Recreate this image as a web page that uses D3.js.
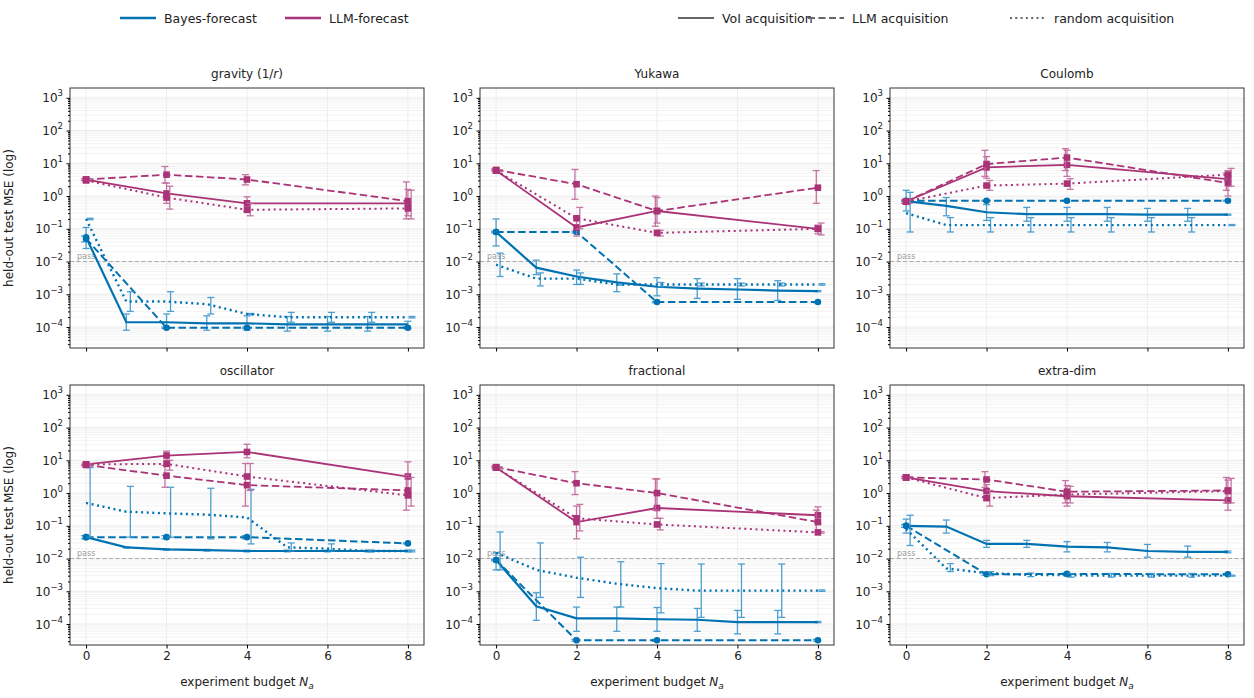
<!DOCTYPE html>
<html><head><meta charset="utf-8">
<script src="https://cdn.jsdelivr.net/npm/d3@7"></script>
<style>body{margin:0;background:#fff;font-family:"DejaVu Sans",sans-serif;}</style>
</head><body><svg id="chart" width="1254" height="698"></svg>
<script>
// x positions
var xFull = [0, 1, 2, 3, 4, 5, 6, 7, 8];
var xSparse = [0, 2, 4, 8];
var panelNames = ["gravity", "Yukawa", "Coulomb", "oscillator", "fractional", "extra-dim"];

// each entry: [value, low, high]
var gravBV = [[0.055,0.025,0.11],[1.4e-4,8e-5,2.5e-4],[1.4e-4,9e-5,2.5e-4],[1.3e-4,8e-5,2.2e-4],[1.3e-4,8e-5,2.2e-4],[1.2e-4,7.5e-5,2.1e-4],[1.2e-4,7.5e-5,2.1e-4],[1.2e-4,7.5e-5,2.1e-4],[1.2e-4,9e-5,1.5e-4]];
var gravBL = [[0.05,0.04,0.06],[9.5e-5,9e-5,1e-4],[9.5e-5,9e-5,1e-4],[9.5e-5,9e-5,1e-4]];
var gravBR = [[0.2,0.19,0.21],[6e-4,3e-4,1.2e-3],[6e-4,3e-4,1.2e-3],[5e-4,2.5e-4,8e-4],[2.5e-4,2.4e-4,2.6e-4],[2e-4,1.4e-4,2.8e-4],[2e-4,1.4e-4,2.8e-4],[2e-4,1.4e-4,2.8e-4],[2e-4,1.9e-4,2.1e-4]];
var gravLV = [[3.2,3,3.4],[1.2,0.6,2.5],[0.6,0.35,0.95],[0.6,0.25,1.6]];
var gravLL = [[3.2,3,3.4],[4.5,2.5,8],[3.2,2.2,4.5],[0.7,0.2,2.7]];
var gravLR = [[3.0,2.8,3.2],[0.9,0.4,2],[0.38,0.25,0.6],[0.42,0.2,1.5]];

var yukBV = [[0.08,0.03,0.2],[6.5e-3,4e-3,1.1e-2],[3.5e-3,2e-3,5.5e-3],[2.3e-3,1.2e-3,4.2e-3],[1.7e-3,9e-4,3.2e-3],[1.5e-3,7.5e-4,3e-3],[1.4e-3,7e-4,3e-3],[1.3e-3,6.5e-4,2.6e-3],[1.25e-3,1.2e-3,1.3e-3]];
var yukBL = [[0.08,0.075,0.085],[0.08,0.075,0.085],[5.8e-4,5.5e-4,6e-4],[5.8e-4,5.5e-4,6e-4]];
var yukBR = [[8e-3,3.5e-3,1.8e-2],[3e-3,1.8e-3,4.5e-3],[3e-3,2e-3,4.5e-3],[2e-3,1.9e-3,2.1e-3],[2e-3,1.7e-3,2.3e-3],[2e-3,1.8e-3,2.2e-3],[2e-3,1.8e-3,2.2e-3],[2e-3,1.8e-3,2.2e-3],[2e-3,1.9e-3,2.1e-3]];
var yukLV = [[6,5.6,6.4],[0.11,0.06,0.2],[0.35,0.15,0.9],[0.1,0.07,0.13]];
var yukLL = [[6.3,5.9,6.7],[2.3,0.8,6.5],[0.35,0.12,1.0],[1.8,0.6,6]];
var yukLR = [[6,5.6,6.4],[0.21,0.1,0.45],[0.075,0.06,0.09],[0.1,0.065,0.15]];

var couBV = [[0.7,0.35,1.5],[0.5,0.25,0.9],[0.32,0.18,0.55],[0.28,0.17,0.45],[0.28,0.17,0.45],[0.28,0.17,0.45],[0.27,0.17,0.42],[0.27,0.17,0.42],[0.27,0.26,0.28]];
var couBL = [[0.72,0.7,0.74],[0.72,0.7,0.74],[0.72,0.7,0.74],[0.72,0.7,0.74]];
var couBR = [[0.3,0.08,1.3],[0.13,0.08,0.22],[0.13,0.08,0.22],[0.13,0.08,0.22],[0.13,0.08,0.22],[0.13,0.08,0.22],[0.13,0.08,0.22],[0.13,0.08,0.22],[0.13,0.125,0.135]];
var couLV = [[0.68,0.6,0.76],[7.5,3.5,16],[9,4,25],[3.3,1,6]];
var couLL = [[0.68,0.6,0.76],[9.5,4,25],[15,6,28],[2.5,1.5,5]];
var couLR = [[0.68,0.6,0.76],[2.1,1.5,3],[2.4,1.6,3.4],[4.5,2,7]];

var oscBV = [[0.045,0.042,0.048],[0.022,0.021,0.023],[0.019,0.018,0.02],[0.018,0.017,0.019],[0.017,0.016,0.018],[0.017,0.016,0.018],[0.017,0.016,0.018],[0.017,0.016,0.018],[0.017,0.016,0.018]];
var oscBL = [[0.045,0.04,0.05],[0.045,0.04,0.05],[0.045,0.04,0.05],[0.029,0.028,0.03]];
var oscBR = [[0.5,0.045,6],[0.27,0.045,1.6],[0.24,0.045,1.5],[0.22,0.04,1.4],[0.18,0.028,1.3],[0.022,0.017,0.03],[0.02,0.017,0.028],[0.017,0.016,0.018],[0.017,0.016,0.018]];
var oscLV = [[7.5,7,8],[14,10,19],[18,12,31],[3.2,1,9]];
var oscLL = [[7.2,6.8,7.6],[3.4,1.5,7],[1.75,0.4,8],[1.2,0.3,3.5]];
var oscLR = [[7.5,7,8],[7.8,5,10],[3.2,1.2,8],[0.85,0.4,3]];

var fraBV = [[9e-3,4.5e-3,1.5e-2],[3.5e-4,1.3e-4,9e-4],[1.5e-4,6e-5,3.3e-4],[1.5e-4,6e-5,3.3e-4],[1.4e-4,6e-5,3.2e-4],[1.35e-4,6e-5,3e-4],[1.15e-4,5e-5,2.6e-4],[1.15e-4,5e-5,2.6e-4],[1.15e-4,1.1e-4,1.2e-4]];
var fraBL = [[9e-3,8.5e-3,9.5e-3],[3.2e-5,3e-5,3.4e-5],[3.2e-5,3e-5,3.4e-5],[3.2e-5,3e-5,3.4e-5]];
var fraBR = [[0.015,4.5e-3,6.5e-2],[4.5e-3,6.5e-4,3e-2],[2.6e-3,6.5e-4,1.1e-2],[1.7e-3,3.3e-4,8e-3],[1.25e-3,2.2e-4,7e-3],[1.05e-3,1.6e-4,6.8e-3],[1.05e-3,1.6e-4,6.8e-3],[1.05e-3,1.6e-4,6.8e-3],[1.05e-3,1e-3,1.1e-3]];
var fraLV = [[6,5.6,6.4],[0.13,0.04,0.4],[0.35,0.17,2.7],[0.21,0.12,0.38]];
var fraLL = [[6.2,5.8,6.6],[2,0.9,4.5],[1,0.3,2.7],[0.13,0.065,0.3]];
var fraLR = [[6,5.6,6.4],[0.17,0.07,0.45],[0.11,0.075,0.17],[0.063,0.06,0.066]];

var extBV = [[0.1,0.06,0.16],[0.095,0.06,0.15],[0.028,0.022,0.036],[0.028,0.022,0.036],[0.023,0.016,0.033],[0.022,0.016,0.031],[0.017,0.011,0.027],[0.016,0.011,0.024],[0.016,0.015,0.017]];
var extBL = [[0.1,0.09,0.11],[3.3e-3,3.1e-3,3.5e-3],[3.4e-3,3.2e-3,3.6e-3],[3.3e-3,3.1e-3,3.5e-3]];
var extBR = [[0.08,0.025,0.21],[5e-3,4e-3,7e-3],[3.6e-3,3e-3,4e-3],[3.2e-3,2.8e-3,3.6e-3],[3.1e-3,2.7e-3,3.5e-3],[3e-3,2.7e-3,3.5e-3],[3e-3,2.7e-3,3.5e-3],[3e-3,2.7e-3,3.5e-3],[3e-3,2.9e-3,3.1e-3]];
var extLV = [[3,2.8,3.2],[1.15,0.6,1.8],[0.8,0.4,1.7],[0.6,0.3,2.5]];
var extLL = [[3,2.8,3.2],[2.6,1.5,4.5],[1.1,0.5,2.4],[1.2,0.5,3]];
var extLR = [[3,2.8,3.2],[0.7,0.4,1.2],[0.9,0.5,1.6],[1.15,0.5,2.8]];

var panelSeries = [
  [gravBV, gravBL, gravBR, gravLV, gravLL, gravLR],
  [yukBV, yukBL, yukBR, yukLV, yukLL, yukLR],
  [couBV, couBL, couBR, couLV, couLL, couLR],
  [oscBV, oscBL, oscBR, oscLV, oscLL, oscLR],
  [fraBV, fraBL, fraBR, fraLV, fraLL, fraLR],
  [extBV, extBL, extBR, extLV, extLL, extLR]
];

var blue = "#0072b2", blueErr = "#3a95cc";
var purple = "#aa3377", purpleErr = "#c0679a";
var dashes = {voi: null, llm: "7.5,3.5", rnd: "2,3.6"};
var seriesStyle = [
  {c: blue, e: blueErr, w: 2.2, d: dashes.voi, xs: xFull, off: 0, mk: "first"},
  {c: blue, e: blueErr, w: 2.0, d: dashes.llm, xs: xSparse, off: -0.04, mk: "circle"},
  {c: blue, e: blueErr, w: 2.4, d: dashes.rnd, xs: xFull, off: 0.1, mk: "none"},
  {c: purple, e: purpleErr, w: 1.8, d: dashes.voi, xs: xSparse, off: 0, mk: "square"},
  {c: purple, e: purpleErr, w: 1.8, d: dashes.llm, xs: xSparse, off: -0.04, mk: "square"},
  {c: purple, e: purpleErr, w: 2.0, d: dashes.rnd, xs: xSparse, off: 0.08, mk: "square"}
];

var svg = d3.select("#chart");
var colL = [70, 480, 890], pw = 354;
var rowT = [88, 385], ph = 260;

var x = d3.scaleLinear().domain([-0.4, 8.4]).range([0, pw]);
var y = d3.scaleLog().domain([Math.pow(10, -4.64), Math.pow(10, 3.3)]).range([ph, 0]);
var majors = [1e-4, 1e-3, 1e-2, 1e-1, 1, 10, 100, 1000];
var minors = [];
for (var e = -5; e <= 3; e++) for (var m = 2; m <= 9; m++) {
  var v = m * Math.pow(10, e);
  if (v >= y.domain()[0] && v <= y.domain()[1]) minors.push(v);
}

panelNames.forEach(function(name, i) {
  var r = Math.floor(i / 3), c = i % 3;
  var g = svg.append("g").attr("transform", "translate(" + colL[c] + "," + rowT[r] + ")");

  // grid
  g.selectAll(".gm").data(minors).enter().append("line")
    .attr("x1", 0).attr("x2", pw).attr("y1", d => y(d)).attr("y2", d => y(d))
    .attr("stroke", "#ebebeb").attr("stroke-width", 0.6);
  g.selectAll(".gM").data(majors).enter().append("line")
    .attr("x1", 0).attr("x2", pw).attr("y1", d => y(d)).attr("y2", d => y(d))
    .attr("stroke", "#e4e4e4").attr("stroke-width", 0.8);
  g.selectAll(".gx").data([0, 2, 4, 6, 8]).enter().append("line")
    .attr("x1", d => x(d)).attr("x2", d => x(d)).attr("y1", 0).attr("y2", ph)
    .attr("stroke", "#eaeaea").attr("stroke-width", 0.8);

  // pass line
  g.append("line").attr("x1", 0).attr("x2", pw).attr("y1", y(1e-2)).attr("y2", y(1e-2))
    .attr("stroke", "#aaaaaa").attr("stroke-width", 1).attr("stroke-dasharray", "4,2.5");
  g.append("text").attr("x", 7).attr("y", y(1e-2) - 3).text("pass")
    .attr("font-size", 8).attr("fill", "#999");

  var line = d3.line().x(d => x(d[0])).y(d => y(d[1]));
  panelSeries[i].forEach(function(ser, k) {
    var st = seriesStyle[k];
    var pts = ser.map((d, j) => [st.xs[j], d[0], d[1], d[2]]);
    // error bars
    var eg = g.append("g").attr("stroke", st.e).attr("stroke-width", 1.3).attr("opacity", 0.9);
    pts.forEach(function(p) {
      var xx = x(p[0] + st.off);
      eg.append("line").attr("x1", xx).attr("x2", xx).attr("y1", y(p[2])).attr("y2", y(p[3]));
      [p[2], p[3]].forEach(function(v) {
        eg.append("line").attr("x1", xx - 3.5).attr("x2", xx + 3.5).attr("y1", y(v)).attr("y2", y(v));
      });
    });
    g.append("path").datum(pts).attr("d", line).attr("fill", "none")
      .attr("stroke", st.c).attr("stroke-width", st.w)
      .attr("stroke-dasharray", st.d);
    if (st.mk === "circle" || st.mk === "first") {
      var cp = st.mk === "first" ? [pts[0]] : pts;
      g.selectAll(null).data(cp).enter().append("circle")
        .attr("cx", d => x(d[0])).attr("cy", d => y(d[1])).attr("r", 3.3).attr("fill", st.c);
    } else if (st.mk === "square") {
      g.selectAll(null).data(pts).enter().append("rect")
        .attr("x", d => x(d[0]) - 3.3).attr("y", d => y(d[1]) - 3.3)
        .attr("width", 6.6).attr("height", 6.6).attr("fill", st.c);
    }
  });

  // axes
  g.append("rect").attr("width", pw).attr("height", ph).attr("fill", "none")
    .attr("stroke", "#333").attr("stroke-width", 1);
  var ya = g.append("g").call(d3.axisLeft(y).tickValues(majors).tickSize(3.5).tickFormat(""));
  ya.select(".domain").remove();
  g.append("g").call(d3.axisLeft(y).tickValues(minors).tickSize(2).tickFormat(""))
    .select(".domain").remove();
  majors.forEach(function(v) {
    var ex = Math.round(Math.log10(v));
    var t = g.append("text").attr("x", -7).attr("y", y(v) + 4.5)
      .attr("text-anchor", "end").attr("font-size", 12).attr("fill", "#222");
    t.append("tspan").text("10");
    t.append("tspan").text(ex < 0 ? "\u2212" + (-ex) : ex).attr("font-size", 8.5).attr("dy", -6);
  });
  var xa = g.append("g").attr("transform", "translate(0," + ph + ")")
    .call(d3.axisBottom(x).tickValues([0, 2, 4, 6, 8]).tickSize(3.5).tickFormat(r === 1 ? d3.format("d") : ""));
  xa.select(".domain").remove();
  xa.selectAll("text").attr("font-size", 12).attr("fill", "#222")
    .attr("font-family", "DejaVu Sans");

  var title = g.append("text").attr("x", pw / 2).attr("y", -10).attr("text-anchor", "middle")
    .attr("font-size", 12).attr("fill", "#222");
  if (name === "gravity") {
    title.append("tspan").text("gravity (1/");
    title.append("tspan").text("r").attr("font-style", "italic");
    title.append("tspan").text(")");
  } else title.text(name);

  if (c === 0) {
    g.append("text").attr("transform", "translate(-57," + (ph / 2) + ") rotate(-90)")
      .attr("text-anchor", "middle").attr("font-size", 12).attr("fill", "#222")
      .text("held-out test MSE (log)");
  }
  if (r === 1) {
    var xl = g.append("text").attr("x", pw / 2).attr("y", ph + 41).attr("text-anchor", "middle")
      .attr("font-size", 12).attr("fill", "#222");
    xl.append("tspan").text("experiment budget ");
    xl.append("tspan").text("N").attr("font-style", "italic");
    xl.append("tspan").text("a").attr("font-style", "italic").attr("font-size", 9).attr("dy", 3);
  }
});

// legend
var legend = [
  {x: 120, c: blue, d: null, t: "Bayes-forecast", w: 2.5},
  {x: 285, c: purple, d: null, t: "LLM-forecast", w: 2.5},
  {x: 678, c: "#666", d: null, t: "VoI acquisition", w: 2},
  {x: 808, c: "#666", d: "7,3.5", t: "LLM acquisition", w: 2},
  {x: 1010, c: "#666", d: "2,3.3", t: "random acquisition", w: 2}
];
legend.forEach(function(l) {
  svg.append("line").attr("x1", l.x).attr("x2", l.x + 36).attr("y1", 18).attr("y2", 18)
    .attr("stroke", l.c).attr("stroke-width", l.w).attr("stroke-dasharray", l.d);
  svg.append("text").attr("x", l.x + 44).attr("y", 22.5).text(l.t)
    .attr("font-size", 12.5).attr("fill", "#222");
});
</script></body></html>
